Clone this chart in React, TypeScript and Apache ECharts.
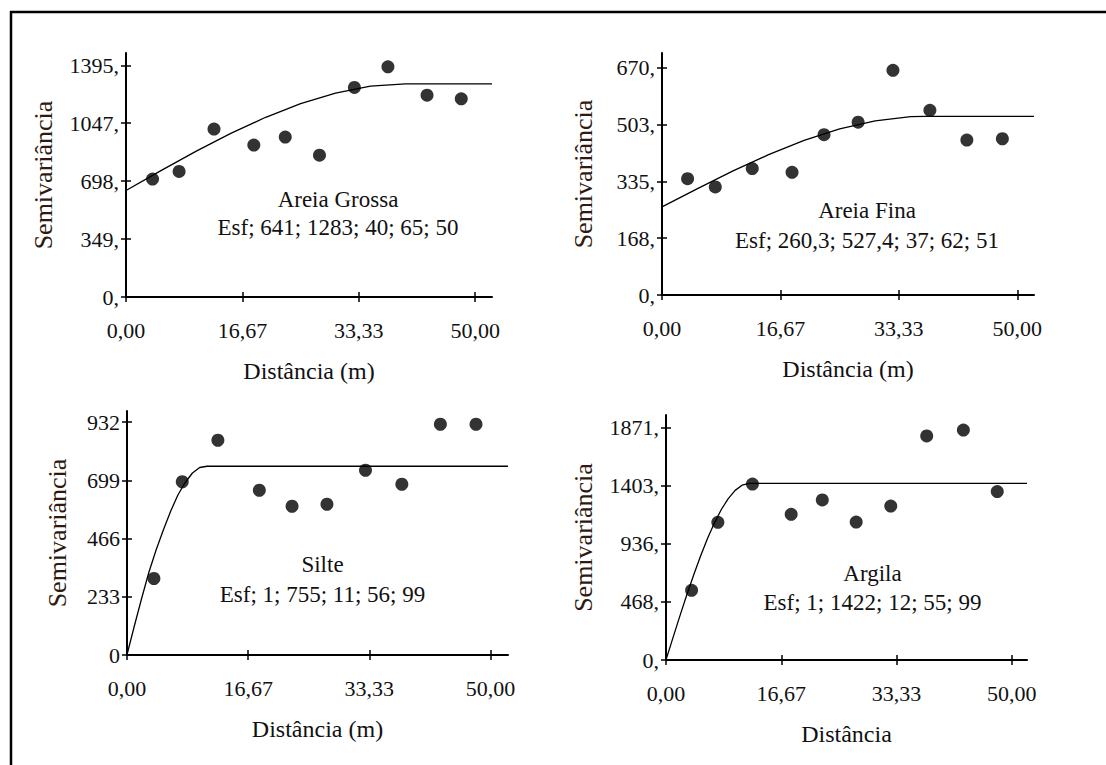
import { useEffect, useRef } from "react";
import * as echarts from "echarts";

// ---------- data ----------
const xTickValues = [0, 16.67, 33.33, 50];
const xTickLabels = ["0,00", "16,67", "33,33", "50,00"];

// Areia Grossa
const agLag = [3.8, 7.6, 12.6, 18.3, 22.8, 27.7, 32.7, 37.5, 43.1, 48.0];
const agGamma = [710, 756, 1011, 915, 963, 854, 1262, 1386, 1215, 1193];
const agModelLag = [0, 5, 10, 15, 20, 25, 30, 35, 40, 52.4];
const agModelGamma = [641, 761, 877, 985, 1082, 1164, 1228, 1269, 1283, 1283];
const agYTicks = [0, 349, 698, 1047, 1395];
const agYLabels = ["0,", "349,", "698,", "1047,", "1395,"];

// Areia Fina
const afLag = [3.6, 7.5, 12.7, 18.3, 22.8, 27.6, 32.5, 37.7, 42.9, 47.9];
const afGamma = [343, 319, 373, 362, 473, 510, 663, 545, 457, 461];
const afModelLag = [0, 5, 10, 15, 20, 25, 30, 35, 37, 52.35];
const afModelGamma = [260, 314, 366, 414, 456, 490, 514, 526, 527, 527];
const afYTicks = [0, 168, 335, 503, 670];
const afYLabels = ["0,", "168,", "335,", "503,", "670,"];

// Silte
const siLag = [3.7, 7.6, 12.5, 18.2, 22.7, 27.5, 32.8, 37.8, 43.1, 48.0];
const siGamma = [306, 693, 859, 659, 595, 603, 739, 683, 923, 923];
const siModelLag = [0, 1, 2, 3, 4, 5, 6, 7, 8, 9, 10, 11, 52.4];
const siModelGamma = [1, 115, 225, 330, 420, 500, 575, 640, 690, 728, 750, 755, 755];
const siYTicks = [0, 233, 466, 699, 932];
const siYLabels = ["0", "233", "466", "699", "932"];

// Argila
const arLag = [3.7, 7.5, 12.5, 18.1, 22.6, 27.5, 32.5, 37.7, 43.0, 47.9];
const arGamma = [561, 1109, 1417, 1173, 1289, 1111, 1240, 1804, 1852, 1356];
const arModelLag = [0, 1, 2, 3, 4, 5, 6, 7, 8, 9, 10, 11, 12, 52.2];
const arModelGamma = [1, 178, 353, 523, 685, 838, 978, 1103, 1212, 1300, 1366, 1408, 1422, 1422];
const arYTicks = [0, 468, 936, 1403, 1871];
const arYLabels = ["0,", "468,", "936,", "1403,", "1871,"];

const panelTitles = ["Areia Grossa", "Areia Fina", "Silte", "Argila"];
const panelParams = [
  "Esf; 641; 1283; 40; 65; 50",
  "Esf; 260,3; 527,4; 37; 62; 51",
  "Esf; 1; 755; 11; 56; 99",
  "Esf; 1; 1422; 12; 55; 99",
];
const xNames = ["Distância (m)", "Distância (m)", "Distância (m)", "Distância"];
const yName = "Semivariância";

// ---------- layout ----------
const FONT = "'Liberation Serif', 'Times New Roman', serif";

const panels = [
  { lag: agLag, gamma: agGamma, mLag: agModelLag, mGamma: agModelGamma, yTicks: agYTicks, yLabels: agYLabels,
    left: 126, top: 53, width: 366, height: 244, xMax: 52.4, yMax: 1469, yGap: 70,
    tx: 338, ty1: 199, ty2: 227 },
  { lag: afLag, gamma: afGamma, mLag: afModelLag, mGamma: afModelGamma, yTicks: afYTicks, yLabels: afYLabels,
    left: 662, top: 53, width: 372, height: 242, xMax: 52.35, yMax: 714, yGap: 66,
    tx: 867, ty1: 210.5, ty2: 240.5 },
  { lag: siLag, gamma: siGamma, mLag: siModelLag, mGamma: siModelGamma, yTicks: siYTicks, yLabels: siYLabels,
    left: 127, top: 411, width: 381, height: 244, xMax: 52.4, yMax: 976, yGap: 57,
    tx: 322.5, ty1: 564, ty2: 594 },
  { lag: arLag, gamma: arGamma, mLag: arModelLag, mGamma: arModelGamma, yTicks: arYTicks, yLabels: arYLabels,
    left: 666, top: 415, width: 361, height: 245, xMax: 52.2, yMax: 1973, yGap: 70,
    tx: 872.5, ty1: 573, ty2: 602 },
];

function buildOption() {
  const grid: any[] = [];
  const xAxis: any[] = [];
  const yAxis: any[] = [];
  const series: any[] = [];
  const graphic: any[] = [];

  panels.forEach((p, i) => {
    grid.push({ left: p.left, top: p.top, width: p.width, height: p.height, containLabel: false });
    const xFmt = (v: number) => {
      const k = xTickValues.indexOf(v);
      return k >= 0 ? xTickLabels[k] : "";
    };
    const yFmt = (v: number) => {
      const k = p.yTicks.indexOf(v);
      return k >= 0 ? p.yLabels[k] : "";
    };
    const common = { type: "value", gridIndex: i, splitLine: { show: false } };
    xAxis.push({
      ...common,
      position: "bottom",
      min: 0,
      max: p.xMax,
      axisLine: { show: true, onZero: false, lineStyle: { color: "#000", width: 2 } },
      axisTick: { show: true, inside: false, length: 5, customValues: xTickValues, lineStyle: { color: "#000", width: 1.5 } },
      axisLabel: { show: true, customValues: xTickValues, formatter: xFmt, margin: 22, color: "#111", fontFamily: FONT, fontSize: 22 },
      name: xNames[i],
      nameLocation: "middle",
      nameGap: 62,
      nameTextStyle: { color: "#111", fontFamily: FONT, fontSize: 24 },
    });
    xAxis.push({
      ...common,
      position: "bottom",
      min: 0,
      max: p.xMax,
      axisLine: { show: false, onZero: false },
      axisTick: { show: true, inside: true, length: 5, customValues: xTickValues, lineStyle: { color: "#000", width: 1.5 } },
      axisLabel: { show: false },
    });
    yAxis.push({
      ...common,
      position: "left",
      min: 0,
      max: p.yMax,
      axisLine: { show: true, onZero: false, lineStyle: { color: "#000", width: 2 } },
      axisTick: { show: true, inside: false, length: 5, customValues: p.yTicks, lineStyle: { color: "#000", width: 1.5 } },
      axisLabel: { show: true, customValues: p.yTicks, formatter: yFmt, margin: 7, color: "#111", fontFamily: FONT, fontSize: 22 },
      name: yName,
      nameLocation: "middle",
      nameGap: p.yGap,
      nameTextStyle: { color: "#2e1a10", fontFamily: FONT, fontSize: 26 },
    });
    yAxis.push({
      ...common,
      position: "left",
      min: 0,
      max: p.yMax,
      axisLine: { show: false, onZero: false },
      axisTick: { show: true, inside: true, length: 5, customValues: p.yTicks, lineStyle: { color: "#000", width: 1.5 } },
      axisLabel: { show: false },
    });

    series.push({
      type: "line",
      xAxisIndex: 2 * i,
      yAxisIndex: 2 * i,
      data: p.mLag.map((x, k) => [x, p.mGamma[k]]),
      showSymbol: false,
      symbol: "none",
      lineStyle: { color: "#000", width: 1.3 },
      z: 2,
    });
    series.push({
      type: "scatter",
      xAxisIndex: 2 * i,
      yAxisIndex: 2 * i,
      data: p.lag.map((x, k) => [x, p.gamma[k]]),
      symbol: "circle",
      symbolSize: 13,
      itemStyle: { color: "#000" },
      z: 3,
    });

    graphic.push({
      type: "text",
      x: p.tx,
      y: p.ty1,
      style: { text: panelTitles[i], fill: "#111", font: `23px ${FONT}`, align: "center", verticalAlign: "middle" },
    });
    graphic.push({
      type: "text",
      x: p.tx,
      y: p.ty2,
      style: { text: panelParams[i], fill: "#111", font: `23px ${FONT}`, align: "center", verticalAlign: "middle" },
    });
  });

  // outer frame (top and left edges)
  graphic.push({ type: "line", shape: { x1: 10, y1: 12, x2: 1106, y2: 12 }, style: { stroke: "#000", lineWidth: 2.5 } });
  graphic.push({ type: "line", shape: { x1: 11, y1: 11, x2: 11, y2: 765 }, style: { stroke: "#000", lineWidth: 2.5 } });

  return {
    animation: false,
    backgroundColor: "#fff",
    grid,
    xAxis,
    yAxis,
    series,
    graphic,
  };
}

export default function App() {
  const ref = useRef<HTMLDivElement>(null);
  useEffect(() => {
    if (!ref.current) return;
    const chart = echarts.init(ref.current, undefined, { renderer: "svg" });
    chart.setOption(buildOption() as any);
    return () => chart.dispose();
  }, []);
  return <div ref={ref} style={{ position: "fixed", left: 0, top: 0, width: 1106, height: 765 }} />;
}
